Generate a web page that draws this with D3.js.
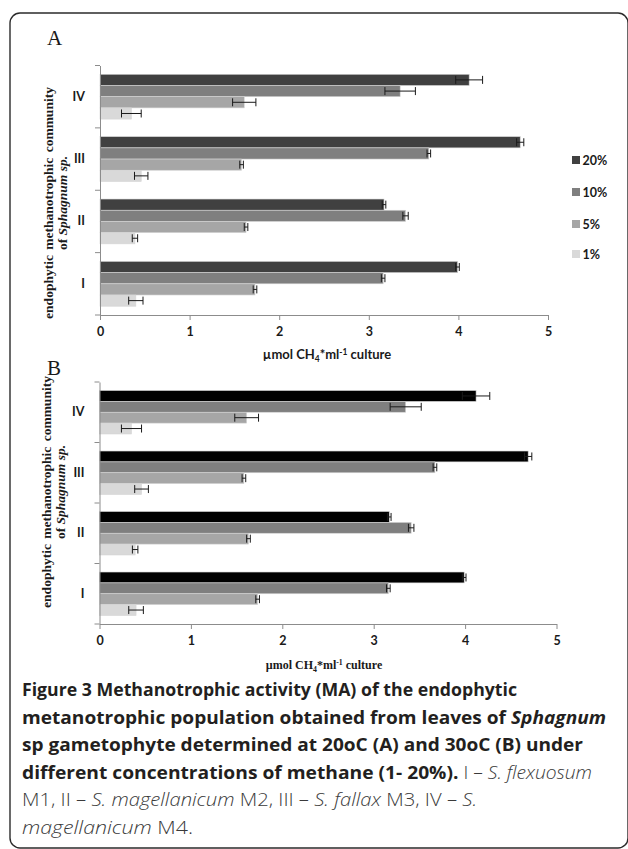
<!DOCTYPE html>
<html>
<head>
<meta charset="utf-8">
<script src="https://cdn.jsdelivr.net/npm/d3@7"></script>
<style>
html,body{margin:0;padding:0;background:#fff;}
svg{display:block;}
</style>
</head>
<body>
<svg id="chart" width="628" height="849"></svg>
<script>
// ---- data ----
const categories = ["IV", "III", "II", "I"];          // top to bottom
const series = ["20%", "10%", "5%", "1%"];            // top to bottom inside each group
const v20 = [4.12, 4.69, 3.17, 3.99];
const v10 = [3.35, 3.67, 3.41, 3.16];
const v5  = [1.61, 1.58, 1.63, 1.73];
const v1  = [0.35, 0.46, 0.39, 0.40];
const e20 = [0.15, 0.04, 0.02, 0.02];
const e10 = [0.17, 0.02, 0.03, 0.02];
const e5  = [0.13, 0.02, 0.02, 0.02];
const e1  = [0.11, 0.075, 0.03, 0.08];
const xTicks = [0, 1, 2, 3, 4, 5];
const colorsA = ["#404040", "#7f7f7f", "#a6a6a6", "#d9d9d9"];
const colorsB = ["#000000", "#7f7f7f", "#a6a6a6", "#d9d9d9"];

const valueSets = [v20, v10, v5, v1];
const errSets = [e20, e10, e5, e1];

const svg = d3.select("#chart");

// frame
svg.append("rect").attr("x", 10).attr("y", 13).attr("width", 618).attr("height", 835)
  .attr("rx", 10).attr("fill", "none").attr("stroke", "#2b2b2b").attr("stroke-width", 1.4);

const sansFont = "Lato, 'Open Sans', sans-serif";
const serifFont = "'Liberation Serif', 'DejaVu Serif', serif";

function drawPanel(cfg) {
  const g = svg.append("g");
  const x = d3.scaleLinear().domain([0, 5]).range(cfg.xr);
  const y0 = d3.scaleBand().domain(categories).range(cfg.yr).paddingInner(0).paddingOuter(0);
  const y1 = d3.scaleBand().domain(series).range([0, y0.bandwidth()]).paddingInner(0).paddingOuter(0.785);
  const color = d3.scaleOrdinal().domain(series).range(cfg.colors);

  const rows = [];
  categories.forEach((c, ci) => {
    series.forEach((s, si) => {
      rows.push({c, s, v: valueSets[si][ci], e: errSets[si][ci]});
    });
  });

  // bars
  g.selectAll("rect.bar").data(rows).join("rect").attr("class", "bar")
    .attr("x", x(0))
    .attr("y", d => y0(d.c) + y1(d.s))
    .attr("width", d => x(d.v) - x(0))
    .attr("height", y1.bandwidth())
    .attr("fill", d => color(d.s))
    .attr("stroke", "#d4d4d4").attr("stroke-width", 0.6);

  // error bars
  const eg = g.selectAll("g.err").data(rows).join("g").attr("class", "err")
    .attr("transform", d => `translate(0,${y0(d.c) + y1(d.s) + y1.bandwidth() / 2})`);
  eg.append("line").attr("x1", d => x(d.v - d.e)).attr("x2", d => x(d.v + d.e))
    .attr("y1", 0).attr("y2", 0).attr("stroke", "#1a1a1a").attr("stroke-width", 1);
  eg.append("line").attr("x1", d => x(d.v - d.e)).attr("x2", d => x(d.v - d.e))
    .attr("y1", -4).attr("y2", 4).attr("stroke", "#1a1a1a").attr("stroke-width", 1);
  eg.append("line").attr("x1", d => x(d.v + d.e)).attr("x2", d => x(d.v + d.e))
    .attr("y1", -4).attr("y2", 4).attr("stroke", "#1a1a1a").attr("stroke-width", 1);

  // x axis
  const xa = g.append("g").attr("transform", `translate(0,${cfg.yr[1]})`)
    .call(d3.axisBottom(x).tickValues(xTicks).tickFormat(d3.format("d")).tickSize(5).tickSizeOuter(0));
  xa.select(".domain").attr("stroke", "#8c8c8c");
  xa.selectAll(".tick line").attr("stroke", "#8c8c8c");
  xa.selectAll(".tick text").attr("font-family", sansFont).attr("font-weight", "bold")
    .attr("font-size", 12.5).attr("fill", "#1a1a1a").attr("dy", "1.05em");

  // y axis (labels) and boundary ticks
  const ya = g.append("g").attr("transform", `translate(${x(0)},0)`)
    .call(d3.axisLeft(y0).tickSize(0).tickSizeOuter(0).tickPadding(15));
  ya.select(".domain").attr("stroke", "#8c8c8c");
  ya.selectAll(".tick text").attr("font-family", sansFont).attr("font-weight", "bold")
    .attr("font-size", 12.5).attr("fill", "#1a1a1a");
  const bounds = categories.map(c => y0(c)).concat([cfg.yr[1]]);
  g.selectAll("line.bt").data(bounds).join("line").attr("class", "bt")
    .attr("x1", x(0) - 5).attr("x2", x(0)).attr("y1", d => d).attr("y2", d => d)
    .attr("stroke", "#8c8c8c").attr("stroke-width", 1);

  // panel letter
  g.append("text").attr("x", 47).attr("y", cfg.letterY).text(cfg.letter)
    .attr("font-family", serifFont).attr("font-size", 21).attr("fill", "#1a1a1a");

  // y title (two lines, rotated)
  const yt = g.append("text").attr("transform", `translate(${cfg.yTitleX},${cfg.yTitleY}) rotate(-90)`)
    .attr("text-anchor", "middle").attr("font-family", serifFont).attr("font-weight", "bold")
    .attr("font-size", 13.5).attr("fill", "#1a1a1a");
  yt.append("tspan").attr("x", 0).attr("dy", 0).attr("word-spacing", 2).text("endophytic methanotrophic community");
  yt.append("tspan").attr("x", 0).attr("dy", 14).text("of ");
  yt.append("tspan").attr("font-style", "italic").text("Sphagnum sp.");

  // x title
  const xt = g.append("text").attr("x", cfg.xTitleX).attr("y", cfg.xTitleY).attr("text-anchor", "middle")
    .attr("font-family", cfg.xTitleFont).attr("font-weight", "bold").attr("font-size", cfg.xTitleSize)
    .attr("fill", "#1a1a1a");
  xt.append("tspan").text("\u00b5mol CH");
  xt.append("tspan").attr("font-size", cfg.xTitleSize * 0.65).attr("dy", 3).text("4");
  xt.append("tspan").attr("dy", -3).text("*ml");
  xt.append("tspan").attr("font-size", cfg.xTitleSize * 0.65).attr("dy", -4).text("-1");
  xt.append("tspan").attr("dy", 4).text(" culture");

  // legend
  if (cfg.legend) {
    const lg = g.selectAll("g.leg").data(series).join("g").attr("class", "leg")
      .attr("transform", (d, i) => `translate(572,${cfg.legendYs[i]})`);
    lg.append("rect").attr("x", 0).attr("y", -4).attr("width", 8).attr("height", 8).attr("fill", d => color(d));
    lg.append("text").attr("x", 10.5).attr("y", 4.5).text(d => d)
      .attr("font-family", sansFont).attr("font-weight", "bold").attr("font-size", 12.5).attr("fill", "#1a1a1a");
  }
}

drawPanel({
  letter: "A", letterY: 45,
  xr: [100, 548], yr: [65.5, 315], colors: colorsA,
  yTitleX: 53, yTitleY: 203,
  xTitleX: 327, xTitleY: 359, xTitleFont: sansFont, xTitleSize: 13,
  legend: true, legendYs: [160, 192, 224, 254]
});
drawPanel({
  letter: "B", letterY: 375,
  xr: [99.5, 556.5], yr: [382, 624], colors: colorsB,
  yTitleX: 51, yTitleY: 492,
  xTitleX: 324, xTitleY: 669, xTitleFont: serifFont, xTitleSize: 12,
  legend: false
});

// caption
const capLines = [
  [["Figure 3 Methanotrophic activity (MA) of the endophytic", "bold", false]],
  [["metanotrophic population obtained from leaves of ", "bold", false], ["Sphagnum", "bold", true]],
  [["sp gametophyte determined at 20oC (A) and 30oC (B) under", "bold", false]],
  [["different concentrations of methane (1- 20%).", "bold", false], [" I \u2013 ", "300", false], ["S. flexuosum", "300", true]],
  [["M1, II \u2013 ", "300", false], ["S. magellanicum", "300", true], [" M2, III \u2013 ", "300", false], ["S. fallax", "300", true], [" M3, IV \u2013 ", "300", false], ["S.", "300", true]],
  [["magellanicum", "300", true], [" M4.", "300", false]]
];
const capBase = [696, 724, 751, 779, 806, 834];
const capWidths = [495, 584, 561, 570, 455, 171];
const cap = svg.append("g");
capLines.forEach((segs, i) => {
  const t = cap.append("text").attr("x", 22).attr("y", capBase[i])
    .attr("font-family", "'Open Sans', 'Noto Sans', sans-serif").attr("font-size", 18).attr("fill", "#231f20")
    .attr("textLength", capWidths[i]).attr("lengthAdjust", "spacingAndGlyphs");
  segs.forEach(s => {
    t.append("tspan").attr("font-weight", s[1]).attr("font-style", s[2] ? "italic" : "normal")
      .attr("fill", s[1] === "300" ? "#3a3a3a" : "#231f20").text(s[0]);
  });
});
</script>
</body>
</html>
